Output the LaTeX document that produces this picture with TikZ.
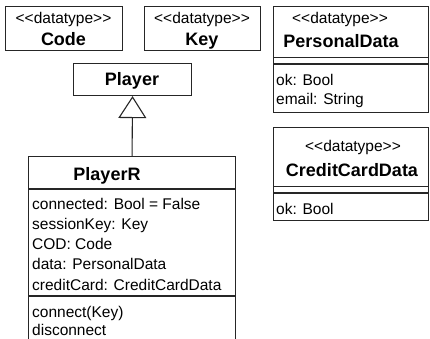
\documentclass[tikz,border=0pt]{standalone}
\usepackage{fontspec}
\setmainfont{Liberation Sans}[Ligatures=TeXOff]
\usetikzlibrary{arrows.meta}
\tikzset{
  x=1pt, y=-1pt,
  umlbox/.style={draw=black!85, line width=1.1pt, rectangle, inner sep=0pt, anchor=north west},
  sep/.style={draw=black!85, line width=1.1pt},
  stereo/.style={inner sep=0pt, anchor=base, font=\fontsize{15.5}{18}\selectfont},
  title/.style={inner sep=0pt, anchor=base, font=\fontsize{18}{22}\selectfont\bfseries},
  attr/.style={inner sep=0pt, anchor=base west, font=\fontsize{15.5}{18}\selectfont},
  gen/.style={draw=black!85, line width=1.1pt, -{Triangle[open, length=22pt, width=28pt, line width=1.1pt]}}
}
\begin{document}
\begin{tikzpicture}
\clip (0,0) rectangle (430,338);
\fill[white] (0,0) rectangle (430,338);
% Code
\node[umlbox, minimum width=117, minimum height=44] (code) at (5,6) {};
\node[stereo] (codeS) at (63.5,23.5) {<<datatype>>};
\node[title] (codeT) at (63.5,45.5) {Code};
% Key
\node[umlbox, minimum width=116, minimum height=44] (key) at (144,6) {};
\node[stereo] (keyS) at (202,23.5) {<<datatype>>};
\node[title] (keyT) at (202,45.5) {Key};
% Player
\node[umlbox, minimum width=118, minimum height=32] (player) at (73,63) {};
\node[title] (playerT) at (132,85.5) {Player};
% PlayerR
\node[umlbox, minimum width=207, minimum height=200] (playerR) at (28,156) {};
\node[title] (playerRT) at (107,180.5) {PlayerR};
\draw[sep] (28,189) coordinate (pr1) -- (235,189) coordinate (pr2);
\draw[sep] (28,296) coordinate (pr3) -- (235,296) coordinate (pr4);
\node[attr] (a1) at (32,209.5) {connected: Bool = False};
\node[attr] (a2) at (32,229.5) {sessionKey: Key};
\node[attr] (a3) at (32,249.5) {COD: Code};
\node[attr] (a4) at (32,269.5) {data: PersonalData};
\node[attr] (a5) at (32,290) {creditCard: CreditCardData};
\node[attr] (m1) at (32,317.5) {connect(Key)};
\node[attr] (m2) at (32,335.5) {disconnect};
% generalization
\draw[gen] (playerR.north) -- (player.south);
% PersonalData
\node[umlbox, minimum width=155, minimum height=106] (pd) at (273,6) {};
\node[stereo] (pdS) at (340,23.5) {<<datatype>>};
\node[title] (pdT) at (341,47.5) {PersonalData};
\draw[sep] (273,57.5) coordinate (pd1) -- (428,57.5) coordinate (pd2);
\draw[sep] (273,64) coordinate (pd3) -- (428,64) coordinate (pd4);
\node[attr] (pda1) at (276,85) {ok: Bool};
\node[attr] (pda2) at (276,104) {email: String};
% CreditCardData
\node[umlbox, minimum width=155, minimum height=93] (ccd) at (273,127) {};
\node[stereo] (ccdS) at (353,151) {<<datatype>>};
\node[title] (ccdT) at (352,176.5) {CreditCardData};
\draw[sep] (273,186.5) coordinate (cc1) -- (428,186.5) coordinate (cc2);
\draw[sep] (273,193) coordinate (cc3) -- (428,193) coordinate (cc4);
\node[attr] (ccda1) at (276,214) {ok: Bool};
\end{tikzpicture}
\end{document}
